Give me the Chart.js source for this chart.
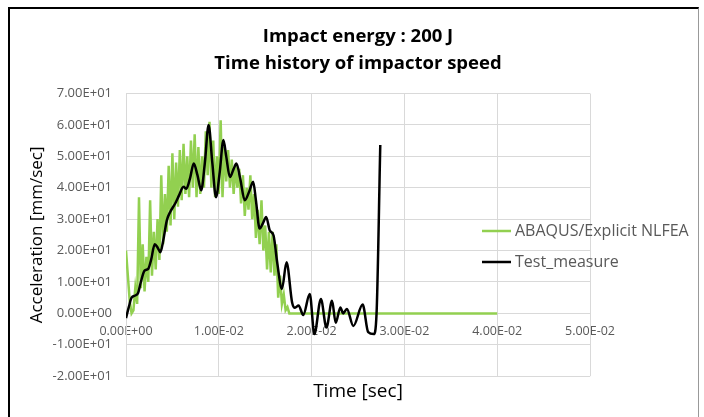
<!DOCTYPE html>
<html>
<head>
<meta charset="utf-8">
<script src="https://cdn.jsdelivr.net/npm/chart.js@4.4.1/dist/chart.umd.min.js"></script>
<style>
  html, body { margin: 0; padding: 0; background: #fff; }
  #wrap { position: relative; width: 704px; height: 417px; }
  #frame { position: absolute; left: 8px; top: 7px; width: 691px; height: 420px;
           border-top: 2px solid #000; border-left: 2px solid #000; border-right: 1px solid #999;
           box-sizing: border-box; pointer-events: none; }
</style>
</head>
<body>
<div id="wrap">
  <canvas id="c" width="704" height="417"></canvas>
  <div id="frame"></div>
</div>
<script>
// ---- Data (time in seconds, acceleration values) ----
const titleLines = ['Impact energy : 200 J', 'Time history of impactor speed'];
const xAxisTitle = 'Time [sec]';
const yAxisTitle = 'Acceleration [mm/sec]';
const seriesNames = ['ABAQUS/Explicit NLFEA', 'Test_measure'];

const xTicks = [0, 0.01, 0.02, 0.03, 0.04, 0.05];
const yTicks = [-20, -10, 0, 10, 20, 30, 40, 50, 60, 70];

const abaqusT = [0, 0.0002, 0.0004, 0.0006, 0.0008, 0.0010, 0.0012, 0.0014, 0.0016, 0.0018,
  0.0020, 0.0022, 0.0024, 0.0026, 0.0028, 0.0030, 0.0032, 0.0034, 0.0036, 0.0038,
  0.0040, 0.0042, 0.0044, 0.0046, 0.0048, 0.0050, 0.0052, 0.0054, 0.0056, 0.0058,
  0.0060, 0.0062, 0.0064, 0.0066, 0.0068, 0.0070, 0.0072, 0.0074, 0.0076, 0.0078,
  0.0080, 0.0082, 0.0084, 0.0086, 0.0088, 0.0090, 0.0092, 0.0094, 0.0096, 0.0098,
  0.0100, 0.0102, 0.0104, 0.0106, 0.0108, 0.0110, 0.0112, 0.0114, 0.0116, 0.0118,
  0.0120, 0.0122, 0.0124, 0.0126, 0.0128, 0.0130, 0.0132, 0.0134, 0.0136, 0.0138,
  0.0140, 0.0142, 0.0144, 0.0146, 0.0148, 0.0150, 0.0152, 0.0154, 0.0156, 0.0158,
  0.0160, 0.0162, 0.0164, 0.0166, 0.0168, 0.0170, 0.0172, 0.0174, 0.0176,
  0.0200, 0.0300, 0.0400];
const abaqusV = [20, 12, 4, 0, 1, 8, 3, 37, 8, 22,
  7, 18, 10, 36, 12, 26, 14, 30, 17, 44,
  22, 38, 26, 47, 28, 51, 30, 48, 34, 52,
  36, 54, 38, 50, 37, 55, 40, 57, 37, 53,
  38, 50, 40, 58, 44, 61, 40, 55, 37, 50,
  38, 61.5, 37, 53, 42, 52, 40, 49, 38, 47,
  40, 46, 35, 44, 31, 40, 33, 44, 30, 38,
  24, 33, 22, 36, 20, 28, 14, 26, 13, 26,
  12, 22, 5, 12, 3, 6, 1, 2, 0,
  0, 0, 0];

const testT = [0, 0.0003, 0.0006, 0.0010, 0.0013, 0.0016, 0.0020, 0.0024, 0.0027, 0.0031,
  0.0034, 0.0037, 0.0040, 0.0044, 0.0048, 0.0053, 0.0057, 0.0062, 0.0065, 0.0069,
  0.0073, 0.0077, 0.0081, 0.0085, 0.0089, 0.0093, 0.0097, 0.0101, 0.0105, 0.0108,
  0.0112, 0.0116, 0.0119, 0.0123, 0.0128, 0.0133, 0.0137, 0.0140, 0.0144, 0.0148,
  0.0151, 0.0155, 0.0159, 0.0163, 0.0168, 0.0173, 0.0179, 0.0182, 0.0186, 0.0191,
  0.0198, 0.0203, 0.0210, 0.0216, 0.0222, 0.0226, 0.0231, 0.0234, 0.0238, 0.0245,
  0.0255, 0.0261, 0.0267, 0.0270, 0.0274];
const testV = [-1.5, 2, 5, 5.7, 6.5, 10, 13.6, 14.2, 17, 22,
  21, 19.5, 23, 29.6, 32.5, 35, 37.5, 40.3, 39.7, 43,
  47.7, 44, 39.2, 48, 60, 48, 37, 45, 55.2, 50,
  43.4, 46, 47.7, 43, 36, 39, 41.9, 36, 27, 29,
  30.7, 26.4, 24.8, 16, 7.8, 16.3, 3.5, 1.8, 2.5, -0.5,
  6.2, -6.6, 4.6, -4.5, 4, -3, 1.9, 0, 1.4, -4,
  2.8, -6, -6.6, 0, 53.6];

// ---- helpers ----
function excelExp(v) {
  if (Math.abs(v) < 1e-12) return '0.00E+00';
  let e = Math.floor(Math.log10(Math.abs(v)) + 1e-9);
  let m = v / Math.pow(10, e);
  if (Math.abs(m) >= 9.995) { m /= 10; e++; }
  return m.toFixed(2) + 'E' + (e < 0 ? '-' : '+') + String(Math.abs(e)).padStart(2, '0');
}
const FONT = "'Open Sans', 'Liberation Sans', sans-serif";
const GRID = '#d9d9d9';
const colors = ['#92d050', '#000000'];

const legendPlugin = {
  id: 'excelLegend',
  afterDraw(chart) {
    const ctx = chart.ctx;
    ctx.save();
    const x0 = 482, y0 = 231, gap = 31;
    chart.data.datasets.forEach((ds, i) => {
      const y = y0 + i * gap;
      ctx.strokeStyle = ds.borderColor;
      ctx.lineWidth = 2.5;
      ctx.beginPath(); ctx.moveTo(x0, y); ctx.lineTo(x0 + 29, y); ctx.stroke();
      ctx.fillStyle = '#595959';
      ctx.font = "16px " + FONT;
      ctx.textBaseline = 'middle';
      ctx.textAlign = 'left';
      ctx.fillText(ds.label, x0 + 33, y);
    });
    ctx.restore();
  }
};

new Chart(document.getElementById('c'), {
  type: 'line',
  data: {
    datasets: [
      { label: seriesNames[0], data: abaqusT.map((t, i) => ({ x: t, y: abaqusV[i] })),
        borderColor: colors[0], borderWidth: 2.5, pointRadius: 0, tension: 0, order: 2 },
      { label: seriesNames[1], data: testT.map((t, i) => ({ x: t, y: testV[i] })),
        borderColor: colors[1], borderWidth: 2.5, pointRadius: 0,
        cubicInterpolationMode: 'monotone', order: 1 }
    ]
  },
  options: {
    responsive: false,
    animation: false,
    layout: { padding: { left: 0, right: 114, top: 0, bottom: 0 } },
    plugins: {
      legend: { display: false },
      tooltip: { enabled: false },
      title: {
        display: true, text: titleLines, fullSize: false, color: '#000',
        font: { family: FONT, size: 18.5, weight: 'bold', lineHeight: 1.42 },
        padding: { top: 24, bottom: 17 }
      },
      subtitle: {
        display: true, text: xAxisTitle, position: 'bottom', fullSize: false, color: '#000',
        font: { family: FONT, size: 19, weight: 'normal', lineHeight: 1.2 },
        padding: { top: 4, bottom: 14 }
      }
    },
    scales: {
      x: {
        type: 'linear', min: xTicks[0], max: xTicks[xTicks.length - 1],
        position: { y: 0 },
        afterBuildTicks(s) { s.ticks = xTicks.map(v => ({ value: v })); },
        ticks: { callback: v => excelExp(v), color: '#595959', padding: 11,
                 font: { family: FONT, size: 12.5 }, maxRotation: 0, autoSkip: false },
        grid: { color: GRID, drawTicks: false },
        border: { color: GRID }
      },
      y: {
        type: 'linear', min: yTicks[0], max: yTicks[yTicks.length - 1],
        afterBuildTicks(s) { s.ticks = yTicks.map(v => ({ value: v })); },
        afterFit(s) { s.width = 126; },
        ticks: { callback: v => excelExp(v), color: '#595959', padding: 14,
                 font: { family: FONT, size: 13 } },
        grid: { color: GRID, drawTicks: false },
        border: { color: GRID },
        title: { display: true, text: yAxisTitle, color: '#000',
                 font: { family: FONT, size: 17 }, padding: { top: 27, bottom: 0 } }
      }
    }
  },
  plugins: [legendPlugin]
});
</script>
</body>
</html>
